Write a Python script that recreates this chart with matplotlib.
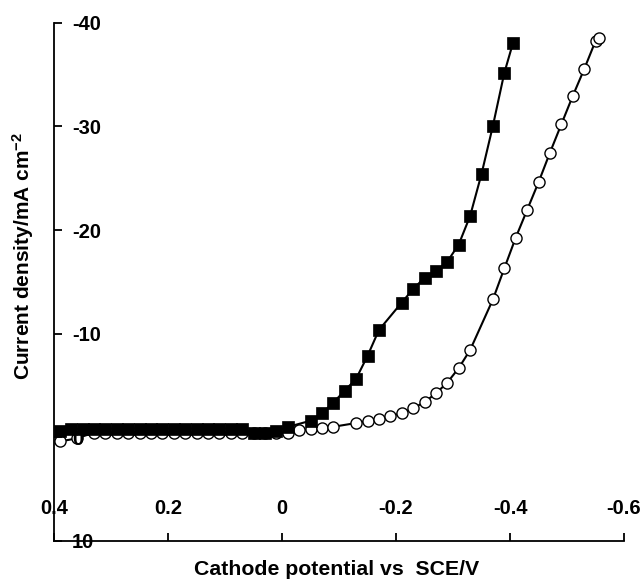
import matplotlib
matplotlib.use('Agg')
import matplotlib.pyplot as plt

plt.rcParams['font.family'] = ['Liberation Sans', 'DejaVu Sans']
plt.rcParams['font.weight'] = 'bold'
plt.rcParams['mathtext.default'] = 'regular'

x_ticks = [0.4, 0.2, 0.0, -0.2, -0.4, -0.6]
x_tick_labels = ['0.4', '0.2', '0', '-0.2', '-0.4', '-0.6']
y_ticks = [-40, -30, -20, -10, 0, 10]
y_tick_labels = ['-40', '-30', '-20', '-10', '0', '10']

# filled squares series
sq_x = [0.39, 0.37, 0.35, 0.33, 0.31, 0.29, 0.27, 0.25, 0.23, 0.21, 0.19, 0.17,
        0.15, 0.13, 0.11, 0.09, 0.07, 0.05, 0.03, 0.01, -0.01, -0.05, -0.07,
        -0.09, -0.11, -0.13, -0.15, -0.17, -0.21, -0.23, -0.25, -0.27, -0.29,
        -0.31, -0.33, -0.35, -0.37, -0.39, -0.405]
sq_y = [-0.6, -0.8, -0.85, -0.85, -0.85, -0.85, -0.85, -0.85, -0.85, -0.85,
        -0.85, -0.85, -0.85, -0.85, -0.85, -0.85, -0.8, -0.45, -0.45, -0.6,
        -1.0, -1.6, -2.3, -3.35, -4.5, -5.65, -7.85, -10.35, -13.0, -14.3,
        -15.4, -16.0, -16.95, -18.6, -21.35, -25.4, -30.05, -35.15, -38.0]

# open circles series
ci_x = [0.39, 0.36, 0.33, 0.31, 0.29, 0.27, 0.25, 0.23, 0.21, 0.19, 0.17, 0.15,
        0.13, 0.11, 0.09, 0.07, 0.05, 0.03, 0.01, -0.01, -0.03, -0.05, -0.07,
        -0.09, -0.13, -0.15, -0.17, -0.19, -0.21, -0.23, -0.25, -0.27, -0.29,
        -0.31, -0.33, -0.37, -0.39, -0.41, -0.43, -0.45, -0.47, -0.49, -0.51,
        -0.53, -0.55, -0.557]
ci_y = [0.4, 0.1, -0.45, -0.45, -0.45, -0.45, -0.45, -0.45, -0.45, -0.45,
        -0.45, -0.45, -0.45, -0.45, -0.45, -0.45, -0.45, -0.45, -0.4, -0.46,
        -0.68, -0.79, -0.93, -1.02, -1.38, -1.59, -1.8, -2.07, -2.32, -2.8,
        -3.4, -4.24, -5.28, -6.68, -8.42, -13.3, -16.3, -19.26, -21.93, -24.6,
        -27.45, -30.19, -32.92, -35.5, -38.23, -38.49]

fig = plt.figure(figsize=(6.44, 5.79), dpi=100)
ax = fig.add_axes([54 / 644, 38 / 579, 570 / 644, 518.3 / 579])
ax.set_axisbelow(False)

ax.plot(ci_x, ci_y, '-', color='black', lw=1.5, marker='o', ms=8,
        mfc='white', mec='black', mew=1.0, zorder=2.1, clip_on=False)
ax.plot(sq_x, sq_y, '-', color='black', lw=1.5, marker='s', ms=8,
        mfc='black', mec='black', mew=0.5, zorder=2.2, clip_on=False)

ax.set_xlim(0.4, -0.6)
ax.set_ylim(10, -40)
ax.set_xticks(x_ticks)
ax.set_xticklabels(x_tick_labels)
ax.set_yticks(y_ticks)
ax.set_yticklabels(y_tick_labels)

for s in ['top', 'right']:
    ax.spines[s].set_visible(False)
for s in ['left', 'bottom']:
    ax.spines[s].set_linewidth(1.3)

ax.tick_params(axis='both', direction='in', length=6, width=1.3, labelsize=14.5)
ax.tick_params(axis='x', pad=-30)
ax.tick_params(axis='y', pad=-13)
for lab in ax.get_yticklabels():
    lab.set_horizontalalignment('left')
    lab.set_fontweight('bold')
for lab in ax.get_xticklabels():
    lab.set_fontweight('bold')

ax.set_xlabel('Cathode potential vs  SCE/V', fontsize=15.3, fontweight='bold')
ax.xaxis.set_label_coords(0.496, -0.037)
ax.set_ylabel('Current density/mA cm$^{-2}$', fontsize=15, fontweight='bold')
ax.yaxis.set_label_coords(-0.031, 0.55)

fig.savefig('out.png', dpi=100)
